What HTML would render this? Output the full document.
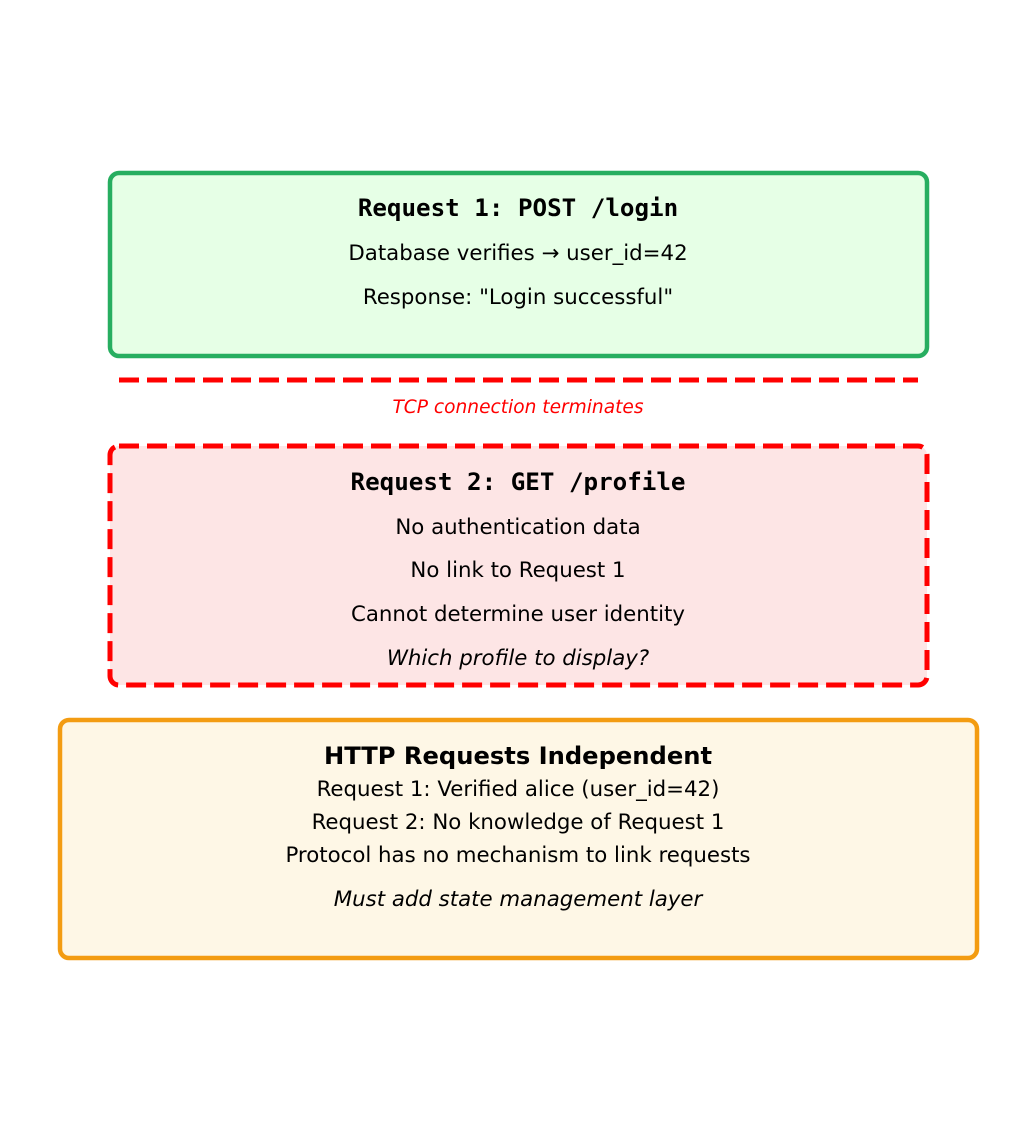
<!DOCTYPE html>
<html><head><meta charset="utf-8"><style>body{margin:0;background:#fff}svg{display:block}</style></head><body>
<svg width="1036" height="1132" xmlns="http://www.w3.org/2000/svg" font-family="DejaVu Sans, sans-serif">
<rect x="110" y="173" width="817" height="183" rx="9" fill="#e6ffe6" stroke="#27ae60" stroke-width="4.5"/>
<text x="518" y="216" text-anchor="middle" font-family="DejaVu Sans Mono, monospace" font-weight="bold" font-size="24.2">Request 1: POST /login</text>
<text x="518" y="260" text-anchor="middle" font-size="21.3">Database verifies → user_id=42</text>
<text x="518" y="304" text-anchor="middle" font-size="21.3">Response: "Login successful"</text>
<line x1="119" y1="380" x2="918" y2="380" stroke="#ff0000" stroke-width="5" stroke-dasharray="20,8"/>
<text x="518" y="413" text-anchor="middle" font-size="18.6" font-style="italic" fill="#ff0000">TCP connection terminates</text>
<rect x="110" y="446" width="817" height="239" rx="9" fill="#fde5e5" stroke="#ff0000" stroke-width="5" stroke-dasharray="20,8"/>
<text x="518" y="490" text-anchor="middle" font-family="DejaVu Sans Mono, monospace" font-weight="bold" font-size="24.2">Request 2: GET /profile</text>
<text x="518" y="534" text-anchor="middle" font-size="21.3">No authentication data</text>
<text x="518" y="577" text-anchor="middle" font-size="21.3">No link to Request 1</text>
<text x="518" y="621" text-anchor="middle" font-size="21.3">Cannot determine user identity</text>
<text x="518" y="665" text-anchor="middle" font-size="21.3" font-style="italic">Which profile to display?</text>
<rect x="60" y="720" width="917" height="238" rx="9" fill="#fef7e6" stroke="#f39c12" stroke-width="4.5"/>
<text x="518" y="764" text-anchor="middle" font-weight="bold" font-size="24.2">HTTP Requests Independent</text>
<text x="518" y="796" text-anchor="middle" font-size="21.3">Request 1: Verified alice (user_id=42)</text>
<text x="518" y="829" text-anchor="middle" font-size="21.3">Request 2: No knowledge of Request 1</text>
<text x="518" y="862" text-anchor="middle" font-size="21.3">Protocol has no mechanism to link requests</text>
<text x="518" y="906" text-anchor="middle" font-size="21.3" font-style="italic">Must add state management layer</text>
</svg>
</body></html>
